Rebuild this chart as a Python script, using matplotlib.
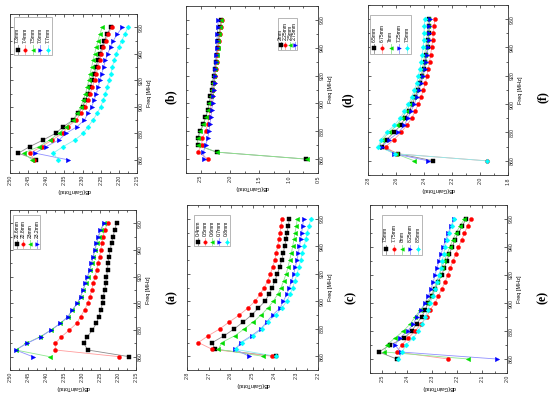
import matplotlib
matplotlib.use('Agg')
import matplotlib.pyplot as plt
from matplotlib.patches import Rectangle
from matplotlib.ticker import MultipleLocator, FixedLocator

plt.rcParams['font.family'] = ['Liberation Sans', 'DejaVu Sans']

freq = list(range(860, 961, 5))

# ---------------- panel (a) ----------------
a_labels = ['22.6mm', '22.8mm', '23mm', '23.2mm']
a_226 = [2.169, 2.284, 2.295, 2.285, 2.271, 2.260, 2.253, 2.248, 2.243, 2.241, 2.237,
         2.234, 2.232, 2.229, 2.228, 2.225, 2.222, 2.218, 2.214, 2.209, 2.204]
a_228 = [2.197, 2.374, 2.374, 2.357, 2.335, 2.315, 2.304, 2.293, 2.284, 2.278, 2.273,
         2.269, 2.264, 2.259, 2.256, 2.251, 2.248, 2.245, 2.242, 2.237, 2.229]
a_230 = [2.390, 2.484, 2.455, 2.416, 2.386, 2.360, 2.339, 2.327, 2.313, 2.304, 2.297,
         2.290, 2.284, 2.278, 2.273, 2.269, 2.264, 2.259, 2.254, 2.248, 2.238]
a_232 = [2.437, 2.484, 2.453, 2.414, 2.386, 2.360, 2.339, 2.327, 2.313, 2.304, 2.297,
         2.291, 2.285, 2.279, 2.274, 2.269, 2.265, 2.260, 2.255, 2.249, 2.239]

# ---------------- panel (b) ----------------
b_labels = ['7.3mm', '7.4mm', '7.5mm', '7.6mm', '7.7mm']
b_73 = [2.428, 2.477, 2.445, 2.408, 2.374, 2.353, 2.326, 2.312, 2.300, 2.292, 2.285,
        2.279, 2.273, 2.268, 2.263, 2.258, 2.252, 2.246, 2.240, 2.232, 2.222]
b_74 = [2.433, 2.445, 2.413, 2.383, 2.355, 2.340, 2.318, 2.305, 2.293, 2.285, 2.279,
        2.273, 2.267, 2.262, 2.258, 2.253, 2.248, 2.243, 2.236, 2.229, 2.220]
b_75 = [2.440, 2.462, 2.420, 2.390, 2.365, 2.345, 2.325, 2.316, 2.305, 2.298, 2.292,
        2.287, 2.283, 2.279, 2.275, 2.271, 2.267, 2.262, 2.257, 2.252, 2.246]
b_76 = [2.341, 2.431, 2.400, 2.365, 2.345, 2.315, 2.295, 2.285, 2.275, 2.268, 2.262,
        2.257, 2.252, 2.247, 2.242, 2.237, 2.231, 2.223, 2.215, 2.204, 2.190]
b_77 = [2.367, 2.381, 2.353, 2.321, 2.298, 2.285, 2.271, 2.260, 2.250, 2.243, 2.237,
        2.232, 2.227, 2.222, 2.218, 2.213, 2.207, 2.200, 2.192, 2.183, 2.175]

# ---------------- panel (c) ----------------
c_labels = ['0.4mm', '0.5mm', '0.6mm', '0.7mm', '0.8mm']
c_04 = [2.394, 2.672, 2.684, 2.629, 2.583, 2.542, 2.504, 2.473, 2.443, 2.424, 2.409,
        2.397, 2.386, 2.375, 2.366, 2.359, 2.353, 2.346, 2.342, 2.336, 2.331]
c_05 = [2.409, 2.684, 2.748, 2.702, 2.649, 2.606, 2.560, 2.522, 2.488, 2.466, 2.446,
        2.430, 2.418, 2.408, 2.398, 2.391, 2.385, 2.379, 2.374, 2.369, 2.365]
c_06 = [2.453, 2.656, 2.641, 2.580, 2.537, 2.496, 2.461, 2.430, 2.405, 2.385, 2.369,
        2.357, 2.346, 2.337, 2.330, 2.322, 2.316, 2.310, 2.305, 2.299, 2.295]
c_07 = [2.516, 2.580, 2.553, 2.504, 2.461, 2.435, 2.408, 2.374, 2.359, 2.343, 2.331,
        2.321, 2.311, 2.304, 2.296, 2.290, 2.285, 2.279, 2.275, 2.270, 2.266]
c_08 = [2.394, 2.576, 2.550, 2.496, 2.458, 2.430, 2.394, 2.366, 2.343, 2.328, 2.316,
        2.305, 2.296, 2.287, 2.279, 2.272, 2.264, 2.256, 2.249, 2.241, 2.232]

# ---------------- panel (d) ----------------
d_labels = ['2mm', '2.25mm', '2.5mm', '2.75mm']
d_200 = [0.700, 2.230, 2.548, 2.553, 2.508, 2.452, 2.418, 2.378, 2.355, 2.333, 2.310,
         2.298, 2.275, 2.264, 2.241, 2.230, 2.207, 2.202, 2.179, 2.168, 2.150]
d_225 = [2.369, 2.551, 2.483, 2.472, 2.415, 2.381, 2.358, 2.335, 2.324, 2.301, 2.284,
         2.273, 2.256, 2.244, 2.227, 2.216, 2.199, 2.182, 2.170, 2.153, 2.142]
d_250 = [0.693, 2.227, 2.551, 2.551, 2.511, 2.455, 2.415, 2.381, 2.358, 2.330, 2.313,
         2.295, 2.278, 2.261, 2.244, 2.227, 2.210, 2.199, 2.182, 2.165, 2.153]
d_275 = [2.437, 2.455, 2.415, 2.381, 2.358, 2.341, 2.324, 2.313, 2.296, 2.284, 2.273,
         2.261, 2.256, 2.250, 2.239, 2.233, 2.227, 2.222, 2.216, 2.210, 2.199]

# ---------------- panel (e) ----------------
e_labels = ['7.5mm', '7.75mm', '8mm', '8.25mm', '8.5mm']
e_750 = [2.443, 2.514, 2.470, 2.412, 2.383, 2.363, 2.343, 2.329, 2.316, 2.302, 2.289,
         2.276, 2.262, 2.252, 2.242, 2.232, 2.220, 2.209, 2.195, 2.179, 2.165]
e_775 = [2.236, 2.443, 2.423, 2.396, 2.369, 2.345, 2.323, 2.309, 2.289, 2.276, 2.262,
         2.249, 2.238, 2.228, 2.217, 2.206, 2.195, 2.182, 2.171, 2.158, 2.145]
e_800 = [2.155, 2.492, 2.483, 2.450, 2.416, 2.389, 2.369, 2.349, 2.323, 2.306, 2.293,
         2.282, 2.273, 2.262, 2.252, 2.241, 2.229, 2.218, 2.205, 2.189, 2.171]
e_825 = [2.042, 2.426, 2.450, 2.430, 2.399, 2.376, 2.363, 2.345, 2.329, 2.316, 2.305,
         2.296, 2.289, 2.281, 2.273, 2.265, 2.256, 2.246, 2.236, 2.225, 2.211]
e_850 = [2.436, 2.420, 2.407, 2.376, 2.356, 2.340, 2.329, 2.316, 2.309, 2.298, 2.289,
         2.280, 2.273, 2.265, 2.260, 2.254, 2.249, 2.241, 2.233, 2.222, 2.211]

# ---------------- panel (f) ----------------
f_labels = ['6.5mm', '6.75mm', '7mm', '7.25mm', '7.5mm']
f_650 = [2.333, 2.583, 2.702, 2.667, 2.614, 2.567, 2.536, 2.505, 2.483, 2.464, 2.445,
         2.429, 2.412, 2.402, 2.393, 2.383, 2.374, 2.369, 2.367, 2.364, 2.362]
f_675 = [1.952, 2.602, 2.674, 2.614, 2.564, 2.524, 2.488, 2.464, 2.440, 2.421, 2.405,
         2.390, 2.379, 2.369, 2.360, 2.352, 2.345, 2.338, 2.333, 2.329, 2.321]
f_700 = [2.469, 2.602, 2.721, 2.698, 2.650, 2.595, 2.560, 2.524, 2.500, 2.474, 2.457,
         2.440, 2.421, 2.412, 2.402, 2.395, 2.388, 2.381, 2.376, 2.371, 2.369]
f_725 = [2.369, 2.612, 2.702, 2.650, 2.583, 2.540, 2.517, 2.493, 2.469, 2.452, 2.436,
         2.421, 2.405, 2.395, 2.386, 2.379, 2.369, 2.367, 2.364, 2.362, 2.360]
f_750 = [1.952, 2.607, 2.726, 2.707, 2.667, 2.612, 2.571, 2.540, 2.512, 2.488, 2.469,
         2.452, 2.440, 2.429, 2.419, 2.412, 2.407, 2.402, 2.400, 2.398, 2.395]

colors = ['black', 'red', '#00dd00', 'blue', 'cyan']
line_colors = ['#8c8c8c', '#ff9c9c', '#8fe88f', '#9090ff', '#8ceeee']
markers = ['s', 'o', '<', '>', 'D']
msizes = [2.6, 2.9, 3.1, 3.1, 2.5]

W, H = 550, 394
fig = plt.figure(figsize=(5.5, 3.94), dpi=100)


def make_ax(x0, x1, y0, y1):
    return fig.add_axes([x0 / W, 1 - y1 / H, (x1 - x0) / W, (y1 - y0) / H])


def draw_legend(ax, labels, lx0, lx1, ly0, ly1):
    n = len(labels)
    ax.add_patch(Rectangle((lx0, ly0), lx1 - lx0, ly1 - ly0, transform=ax.transAxes,
                           fc='white', ec='#9a9a9a', lw=0.5, zorder=5))
    h = ly1 - ly0
    for i, lab in enumerate(labels):
        xc = lx0 + (i + 0.5) * (lx1 - lx0) / n
        ax.plot([xc, xc], [ly0 + 0.04 * h, ly0 + 0.26 * h], transform=ax.transAxes,
                color=line_colors[i], lw=0.6, zorder=6, clip_on=False)
        ax.plot([xc], [ly0 + 0.15 * h], transform=ax.transAxes, ls='none',
                marker=markers[i], color=colors[i], ms=msizes[i] * 0.85, mew=0.3,
                zorder=7, clip_on=False)
        ax.text(xc, ly0 + 0.32 * h, lab, rotation=90, transform=ax.transAxes,
                ha='center', va='bottom', fontsize=3.6, zorder=7)


def panel(box, series, labels, xlim, major, minor, fmt, leg, letter, letter_xy):
    ax = make_ax(*box)
    for i, vals in enumerate(series):
        ax.plot(vals, freq, color=line_colors[i], lw=0.6, zorder=2)
    for i, vals in enumerate(series):
        ax.plot(vals, freq, ls='none', marker=markers[i], color=colors[i],
                ms=msizes[i], mew=0.3, zorder=3)
    ax.set_xlim(*xlim)
    ax.set_ylim(850, 970)
    ax.xaxis.set_major_locator(FixedLocator(major))
    ax.xaxis.set_minor_locator(MultipleLocator(minor))
    ax.yaxis.set_major_locator(MultipleLocator(20))
    ax.yaxis.set_minor_locator(MultipleLocator(10))
    ax.set_xticklabels([fmt % v for v in major])
    ax.yaxis.tick_right()
    ax.yaxis.set_label_position('right')
    ax.tick_params(axis='both', which='both', direction='in', top=True, bottom=True,
                   left=True, right=True, labelsize=3.8, pad=1.5, width=0.5,
                   colors='#222222')
    ax.tick_params(which='major', length=2.2)
    ax.tick_params(which='minor', length=1.2)
    ax.tick_params(axis='x', labelrotation=90)
    ax.tick_params(axis='y', labelrotation=90)
    for lab in ax.get_yticklabels():
        lab.set_va('center')
    ax.set_xlabel('dB(GainTotal)', rotation=180, fontsize=4.0, labelpad=1.5)
    ax.set_ylabel('Freq [MHz]', rotation=90, fontsize=4.0, labelpad=2)
    for sp in ax.spines.values():
        sp.set_linewidth(0.6)
        sp.set_color('#333333')
    draw_legend(ax, labels, *leg)
    fig.text(letter_xy[0] / W, 1 - letter_xy[1] / H, letter, rotation=90,
             ha='center', va='center', fontsize=8.5, fontweight='bold',
             family='Liberation Serif')
    return ax


panel((10, 137, 14, 173), [b_73, b_74, b_75, b_76, b_77], b_labels, (2.50, 2.15),
      [2.50, 2.45, 2.40, 2.35, 2.30, 2.25, 2.20, 2.15], 0.025, '%.2f',
      (0.03, 0.33, 0.74, 0.98), '(b)', (171, 97))
panel((10, 136, 210, 370), [a_226, a_228, a_230, a_232], a_labels, (2.50, 2.15),
      [2.50, 2.45, 2.40, 2.35, 2.30, 2.25, 2.20, 2.15], 0.025, '%.2f',
      (0.027, 0.24, 0.755, 0.97), '(a)', (172, 297))
panel((186, 318, 6, 173), [d_200, d_225, d_250, d_275], d_labels, (2.75, 0.5),
      [2.5, 2.0, 1.5, 1.0, 0.5], 0.25, '%.1f',
      (0.70, 0.84, 0.735, 0.93), '(d)', (348, 100))
panel((187, 318, 205, 370), [c_04, c_05, c_06, c_07, c_08], c_labels, (2.8, 2.2),
      [2.8, 2.7, 2.6, 2.5, 2.4, 2.3, 2.2], 0.05, '%.1f',
      (0.056, 0.33, 0.75, 0.94), '(c)', (351, 297))
panel((368, 508, 5, 175), [f_650, f_675, f_700, f_725, f_750], f_labels, (2.8, 1.8),
      [2.8, 2.6, 2.4, 2.2, 2.0, 1.8], 0.1, '%.1f',
      (0.015, 0.31, 0.71, 0.94), '(f)', (543, 97))
panel((370, 507, 205, 373), [e_750, e_775, e_800, e_825, e_850], e_labels, (2.55, 2.0),
      [2.5, 2.4, 2.3, 2.2, 2.1, 2.0], 0.05, '%.1f',
      (0.085, 0.38, 0.70, 0.94), '(e)', (543, 297))

fig.savefig('out.png', dpi=100)
